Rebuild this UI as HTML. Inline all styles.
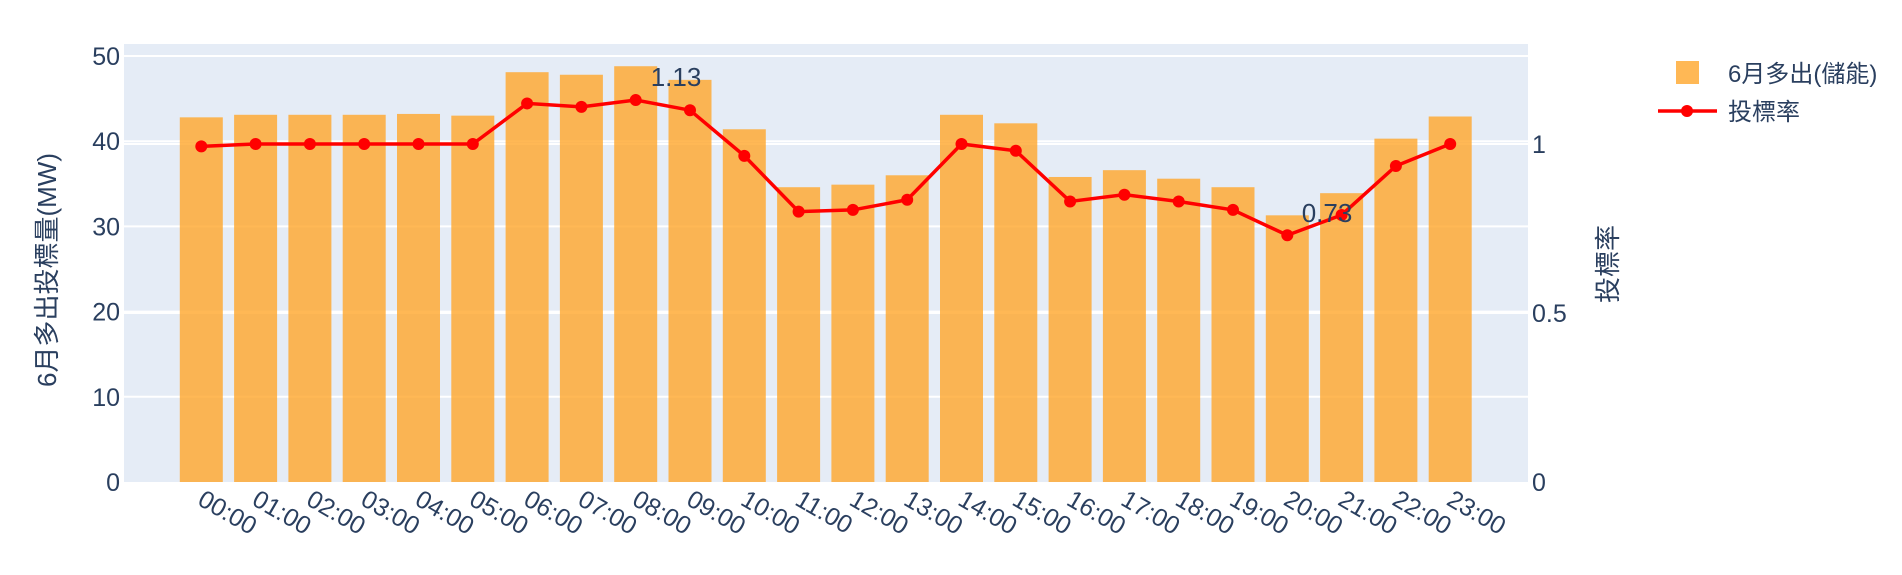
<!DOCTYPE html>
<html><head><meta charset="utf-8"><style>
html,body{margin:0;padding:0;background:#fff;}
svg text{font-family:"Liberation Sans","Noto Sans CJK TC",sans-serif;fill:#2a3f5f;}
</style></head><body>
<svg id="c" width="1902" height="570" xmlns="http://www.w3.org/2000/svg">
<rect x="124" y="44" width="1404" height="438" fill="#E5ECF6"/>
<g id="g"></g>
</svg>
<script>
const svg=document.getElementById('g');
const NS="http://www.w3.org/2000/svg";
function el(t,a,txt){const e=document.createElementNS(NS,t);for(const k in a)e.setAttribute(k,a[k]);if(txt!==undefined)e.textContent=txt;svg.appendChild(e);return e;}
const y0=482, ky=8.52, kr=338;
for(let v=10;v<=50;v+=10){el('line',{x1:124,x2:1528,y1:y0-v*ky,y2:y0-v*ky,stroke:'#fff','stroke-width':2});}
[0.5,1].forEach(v=>el('line',{x1:124,x2:1528,y1:y0-v*kr,y2:y0-v*kr,stroke:'#fff','stroke-width':2}));
const bars=[42.8,43.1,43.1,43.1,43.2,43.0,48.1,47.8,48.8,47.2,41.4,34.6,34.9,36.0,43.1,42.1,35.8,36.6,35.6,34.6,31.3,33.9,40.3,42.9];
const rate=[0.993,1,1,1,1,1,1.12,1.11,1.13,1.1,0.965,0.8,0.805,0.835,1.0,0.98,0.83,0.85,0.83,0.805,0.73,0.79,0.935,1.0];
const cx=i=>201.3+i*54.3;
bars.forEach((b,i)=>{el('rect',{x:cx(i)-21.5,y:y0-b*ky,width:43,height:b*ky,fill:'#FFA62B','fill-opacity':0.8});});
let d='';rate.forEach((r,i)=>{d+=(i?'L':'M')+cx(i)+','+(y0-r*kr);});
el('path',{d:d,fill:'none',stroke:'#FF0000','stroke-width':3.5});
rate.forEach((r,i)=>el('circle',{cx:cx(i),cy:y0-r*kr,r:6,fill:'#FF0000'}));
el('text',{x:676,y:86,'font-size':26,'text-anchor':'middle'},'1.13');
el('text',{x:1327,y:222,'font-size':26,'text-anchor':'middle'},'0.73');
for(let v=0;v<=50;v+=10){el('text',{x:120,y:y0-v*ky+9,'font-size':25,'text-anchor':'end'},String(v));}
[[0,'0'],[0.5,'0.5'],[1,'1']].forEach(([v,t])=>el('text',{x:1532,y:y0-v*kr+9,'font-size':25},t));
bars.forEach((b,i)=>{const h=String(i).padStart(2,'0')+':00';const x=cx(i)-5,y=504;el('text',{x:x,y:y,'font-size':25,transform:`rotate(30 ${x} ${y})`},h);});
el('text',{x:56,y:270,'font-size':26,'text-anchor':'middle',transform:'rotate(-90 56 270)'},'6月多出投標量(MW)');
el('text',{x:1617,y:264,'font-size':26,'text-anchor':'middle',transform:'rotate(-90 1617 264)'},'投標率');
el('rect',{x:1676,y:61,width:23,height:23,fill:'#FFA62B','fill-opacity':0.8});
el('text',{x:1728,y:82,'font-size':24},'6月多出(儲能)');
el('line',{x1:1658,x2:1717,y1:111,y2:111,stroke:'#FF0000','stroke-width':3.5});
el('circle',{cx:1687,cy:111,r:6,fill:'#FF0000'});
el('text',{x:1728,y:120,'font-size':24},'投標率');
</script>
</body></html>
